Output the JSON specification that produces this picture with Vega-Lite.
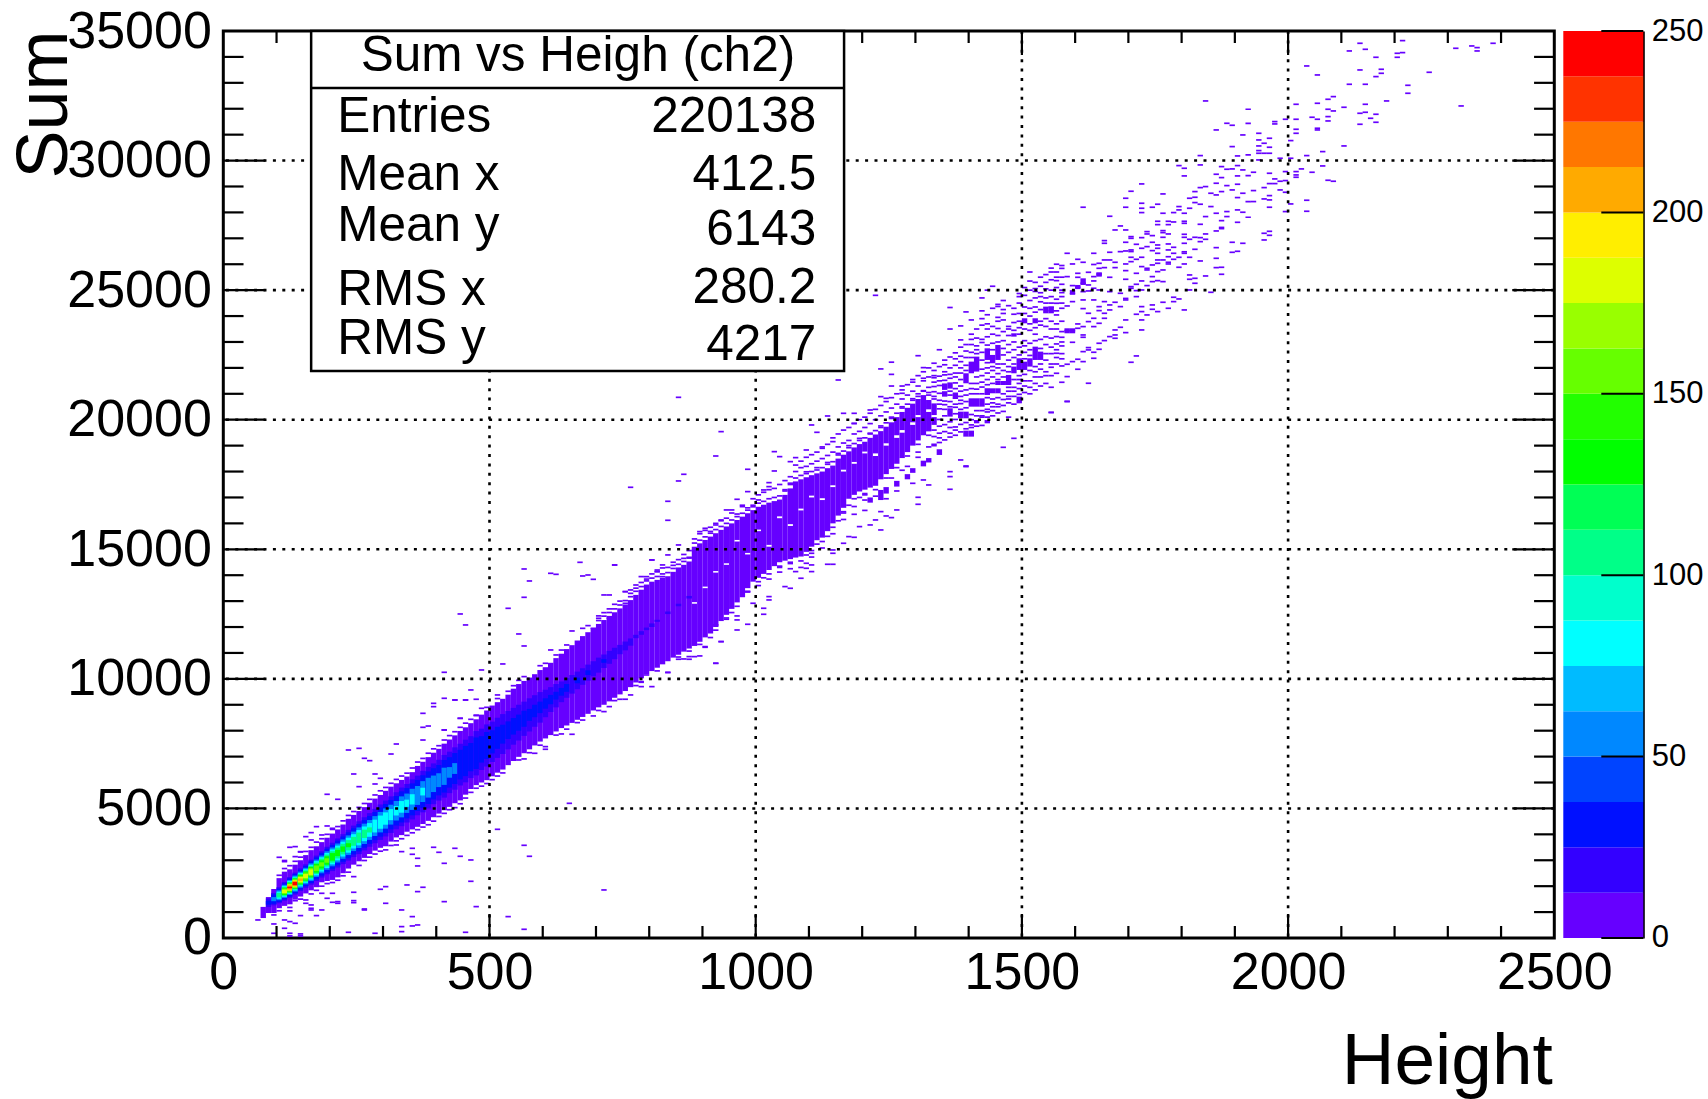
{"$schema":"https://vega.github.io/schema/vega-lite/v6.json","background":"white","padding":{"left":6.3,"top":3,"right":0,"bottom":0},"bounds":"flush","spacing":9,
"config":{"axis":{"labelFont":"Liberation Sans","titleFont":"Liberation Sans","labelColor":"#000","titleColor":"#000","titleFontWeight":"normal","grid":false,"ticks":false}},
"datasets":{
"cols":[
{"h":75,"a":770,"b":1200,"n":6},{"h":85,"a":965,"b":1580,"n":6},{"h":95,"a":965,"b":1890,"n":6},{"h":105,"a":1150,"b":2310,"n":6},{"h":115,"a":1240,"b":2560,"n":6},{"h":125,"a":1300,"b":2650,"n":6},{"h":135,"a":1480,"b":2830,"n":6},{"h":145,"a":1600,"b":3000,"n":6},{"h":155,"a":1720,"b":3200,"n":6},{"h":165,"a":1840,"b":3390,"n":6},{"h":175,"a":1960,"b":3540,"n":6},{"h":185,"a":2150,"b":3700,"n":6},{"h":195,"a":2200,"b":3870,"n":6},{"h":205,"a":2240,"b":4030,"n":6},{"h":215,"a":2340,"b":4190,"n":6},{"h":225,"a":2500,"b":4380,"n":6},{"h":235,"a":2680,"b":4600,"n":6},{"h":245,"a":2830,"b":4750,"n":6},{"h":255,"a":2960,"b":4900,"n":6},{"h":265,"a":3090,"b":5050,"n":6},{"h":275,"a":3240,"b":5220,"n":6},{"h":285,"a":3370,"b":5380,"n":6},{"h":295,"a":3480,"b":5520,"n":6},{"h":305,"a":3540,"b":5680,"n":6},{"h":315,"a":3720,"b":5840,"n":6},{"h":325,"a":3880,"b":5970,"n":6},{"h":335,"a":3970,"b":6100,"n":6},{"h":345,"a":4100,"b":6230,"n":6},{"h":355,"a":4190,"b":6400,"n":6},{"h":365,"a":4290,"b":6640,"n":6},{"h":375,"a":4400,"b":6800,"n":6},{"h":385,"a":4520,"b":6980,"n":6},{"h":395,"a":4660,"b":7150,"n":6},{"h":405,"a":4800,"b":7300,"n":6},{"h":415,"a":4930,"b":7500,"n":6},{"h":425,"a":5060,"b":7660,"n":6},{"h":435,"a":5200,"b":7820,"n":6},{"h":445,"a":5310,"b":7990,"n":6},{"h":455,"a":5530,"b":8130,"n":6},{"h":465,"a":5750,"b":8290,"n":6},{"h":475,"a":5900,"b":8440,"n":6},{"h":485,"a":6000,"b":8620,"n":6},{"h":495,"a":6090,"b":8780,"n":6},{"h":505,"a":6240,"b":8970,"n":6},{"h":515,"a":6380,"b":9100,"n":6},{"h":525,"a":6500,"b":9230,"n":6},{"h":535,"a":6670,"b":9390,"n":6},{"h":545,"a":6830,"b":9620,"n":6},{"h":555,"a":6990,"b":9800,"n":6},{"h":565,"a":7130,"b":9920,"n":6},{"h":575,"a":7280,"b":10050,"n":6},{"h":585,"a":7430,"b":10180,"n":6},{"h":595,"a":7580,"b":10340,"n":6},{"h":605,"a":7700,"b":10450,"n":6},{"h":615,"a":7830,"b":10620,"n":6},{"h":625,"a":7970,"b":10800,"n":6},{"h":635,"a":8100,"b":10970,"n":6},{"h":645,"a":8200,"b":11150,"n":6},{"h":655,"a":8300,"b":11300,"n":6},{"h":665,"a":8420,"b":11480,"n":6},{"h":675,"a":8530,"b":11650,"n":6},{"h":685,"a":8650,"b":11800,"n":6},{"h":695,"a":8780,"b":11960,"n":6},{"h":705,"a":8900,"b":12120,"n":6},{"h":715,"a":9000,"b":12270,"n":6},{"h":725,"a":9130,"b":12430,"n":6},{"h":735,"a":9270,"b":12570,"n":6},{"h":745,"a":9400,"b":12720,"n":6},{"h":755,"a":9530,"b":12870,"n":6},{"h":765,"a":9680,"b":13040,"n":6},{"h":775,"a":9860,"b":13240,"n":6},{"h":785,"a":10020,"b":13440,"n":6},{"h":795,"a":10180,"b":13640,"n":6},{"h":805,"a":10300,"b":13750,"n":6},{"h":815,"a":10430,"b":13820,"n":6},{"h":825,"a":10560,"b":13900,"n":6},{"h":835,"a":10680,"b":13960,"n":6},{"h":845,"a":10820,"b":14130,"n":6},{"h":855,"a":10930,"b":14300,"n":6},{"h":865,"a":11050,"b":14400,"n":6},{"h":875,"a":11170,"b":14530,"n":6},
{"h":885,"a":11270,"b":12900,"n":6},{"h":885,"a":12960,"b":15100,"n":6},{"h":895,"a":11430,"b":15230,"n":6},{"h":905,"a":11600,"b":13500,"n":6},{"h":905,"a":13560,"b":15360,"n":6},{"h":915,"a":11750,"b":15490,"n":6},{"h":925,"a":12000,"b":14100,"n":6},{"h":925,"a":14160,"b":15620,"n":6},{"h":935,"a":12230,"b":15750,"n":6},{"h":945,"a":12470,"b":14400,"n":6},{"h":945,"a":14460,"b":15880,"n":6},{"h":955,"a":12700,"b":16000,"n":6},{"h":965,"a":12950,"b":15300,"n":6},{"h":965,"a":15360,"b":16130,"n":6},{"h":975,"a":13150,"b":16260,"n":6},{"h":985,"a":13500,"b":14800,"n":6},{"h":985,"a":14860,"b":16390,"n":6},{"h":995,"a":13750,"b":16510,"n":6},{"h":1005,"a":13900,"b":15700,"n":6},{"h":1005,"a":15760,"b":16640,"n":6},{"h":1015,"a":14050,"b":16720,"n":6},{"h":1025,"a":14200,"b":15100,"n":6},{"h":1025,"a":15170,"b":16800,"n":6},{"h":1035,"a":14350,"b":16860,"n":6},{"h":1045,"a":14500,"b":16200,"n":6},{"h":1045,"a":16270,"b":16920,"n":6},{"h":1055,"a":14560,"b":17100,"n":6},{"h":1065,"a":14620,"b":15900,"n":6},{"h":1065,"a":15970,"b":17350,"n":6},{"h":1075,"a":14680,"b":17620,"n":6},{"h":1085,"a":14720,"b":16500,"n":6},{"h":1085,"a":16570,"b":17700,"n":6},{"h":1095,"a":14900,"b":17780,"n":6},{"h":1105,"a":15100,"b":17000,"n":6},{"h":1105,"a":17070,"b":17860,"n":6},{"h":1115,"a":15350,"b":17930,"n":6},{"h":1125,"a":15450,"b":16900,"n":6},{"h":1125,"a":16970,"b":18000,"n":6},{"h":1135,"a":15700,"b":18130,"n":6},{"h":1145,"a":16000,"b":17400,"n":6},{"h":1145,"a":17470,"b":18230,"n":6},{"h":1155,"a":16300,"b":18500,"n":6},{"h":1165,"a":16600,"b":18000,"n":6},{"h":1165,"a":18070,"b":18650,"n":6},{"h":1175,"a":16950,"b":18780,"n":6},{"h":1185,"a":17100,"b":18300,"n":6},{"h":1185,"a":18370,"b":18930,"n":6},{"h":1195,"a":17230,"b":19060,"n":6},{"h":1205,"a":17300,"b":18700,"n":6},{"h":1205,"a":18770,"b":19150,"n":6},{"h":1215,"a":17380,"b":19300,"n":6},{"h":1225,"a":17450,"b":18600,"n":6},{"h":1225,"a":18700,"b":19430,"n":6},{"h":1235,"a":17700,"b":19560,"n":6},{"h":1245,"a":17900,"b":19000,"n":6},{"h":1245,"a":19090,"b":19730,"n":6},{"h":1255,"a":18100,"b":19900,"n":6},{"h":1265,"a":18300,"b":19300,"n":6},{"h":1265,"a":19400,"b":20100,"n":6},{"h":1275,"a":18520,"b":19500,"n":6},{"h":1275,"a":19600,"b":20300,"n":6},{"h":1285,"a":18750,"b":20460,"n":6},{"h":1295,"a":19000,"b":19800,"n":6},{"h":1295,"a":19900,"b":20620,"n":6},{"h":1305,"a":19200,"b":20100,"n":6},{"h":1305,"a":20180,"b":20800,"n":6},{"h":1315,"a":19400,"b":20950,"n":6},{"h":1325,"a":19550,"b":20300,"n":6},{"h":1325,"a":20400,"b":20760,"n":6},
{"h":1215,"a":16800,"b":17000,"n":6},{"h":1235,"a":16900,"b":17290,"n":6},{"h":1245,"a":17150,"b":17400,"n":6},{"h":1265,"a":17420,"b":17640,"n":6},{"h":1285,"a":17700,"b":17900,"n":6},{"h":1295,"a":17950,"b":18130,"n":6},{"h":1315,"a":18200,"b":18420,"n":6},{"h":1325,"a":18350,"b":18520,"n":6},{"h":1345,"a":18640,"b":18860,"n":6},{"h":1335,"a":19800,"b":20100,"n":6},{"h":1335,"a":20180,"b":20630,"n":6},{"h":1355,"a":21150,"b":21400,"n":6},{"h":1365,"a":20120,"b":20440,"n":6},{"h":1365,"a":21200,"b":21440,"n":6},{"h":1375,"a":20800,"b":21050,"n":6},{"h":1385,"a":20054,"b":20311,"n":6},{"h":1395,"a":19347,"b":19578,"n":6},{"h":1395,"a":20054,"b":20311,"n":6},{"h":1405,"a":19347,"b":19578,"n":6},{"h":1405,"a":20504,"b":20826,"n":6},{"h":1415,"a":19861,"b":19990,"n":6},{"h":1415,"a":20504,"b":20826,"n":6},{"h":1425,"a":20504,"b":20826,"n":6},{"h":1435,"a":19861,"b":19990,"n":6},{"h":1445,"a":21020,"b":21212,"n":6},{"h":1455,"a":21020,"b":21212,"n":6},{"h":1455,"a":21340,"b":21495,"n":6},{"h":1465,"a":21340,"b":21495,"n":6},{"h":1475,"a":21340,"b":21495,"n":6},{"h":1495,"a":20633,"b":20890,"n":6},
{"h":1405,"a":21792,"b":22242,"n":6},{"h":1415,"a":21857,"b":22435,"n":6},{"h":1395,"a":21406,"b":21792,"n":6},{"h":1435,"a":22306,"b":22755,"n":6},{"h":1445,"a":22179,"b":22500,"n":6},{"h":1455,"a":22306,"b":22885,"n":6},{"h":1435,"a":20955,"b":21215,"n":6},{"h":1475,"a":21470,"b":21727,"n":6},{"h":1485,"a":21792,"b":22050,"n":6},{"h":1495,"a":21920,"b":22370,"n":6},{"h":1505,"a":21920,"b":22240,"n":6},{"h":1515,"a":22050,"b":22370,"n":6},{"h":1525,"a":22306,"b":22820,"n":6},{"h":1535,"a":22306,"b":22628,"n":6},{"h":1505,"a":23720,"b":23914,"n":6},{"h":1525,"a":23720,"b":23914,"n":6},{"h":1485,"a":23206,"b":23335,"n":6},{"h":1585,"a":23335,"b":23528,"n":6},{"h":1595,"a":23335,"b":23528,"n":6},{"h":1595,"a":24850,"b":25000,"n":6},{"h":1545,"a":24106,"b":24364,"n":6},{"h":1555,"a":24106,"b":24364,"n":6},{"h":1605,"a":25040,"b":25200,"n":6},{"h":1615,"a":25200,"b":25456,"n":6},{"h":1645,"a":25521,"b":25675,"n":6},{"h":1355,"a":20890,"b":21100,"n":6},
{"h":85,"a":1195,"b":1525,"n":19},{"h":85,"a":1285,"b":1435,"n":31},{"h":95,"a":1260,"b":1740,"n":19},{"h":95,"a":1320,"b":1680,"n":31},{"h":95,"a":1420,"b":1580,"n":56},
{"h":105,"a":1340,"b":1960,"n":19},{"h":105,"a":1393,"b":1907,"n":31},{"h":105,"a":1459,"b":1841,"n":56},{"h":105,"a":1510,"b":1790,"n":81},{"h":105,"a":1563,"b":1737,"n":112},
{"h":115,"a":1440,"b":2160,"n":19},{"h":115,"a":1490,"b":2110,"n":31},{"h":115,"a":1547,"b":2053,"n":56},{"h":115,"a":1590,"b":2010,"n":81},{"h":115,"a":1625,"b":1975,"n":112},{"h":115,"a":1660,"b":1940,"n":137},{"h":115,"a":1693,"b":1907,"n":162},{"h":115,"a":1736,"b":1864,"n":187},
{"h":125,"a":1550,"b":2350,"n":19},{"h":125,"a":1600,"b":2300,"n":31},{"h":125,"a":1660,"b":2240,"n":56},{"h":125,"a":1700,"b":2200,"n":81},{"h":125,"a":1737,"b":2163,"n":112},{"h":125,"a":1768,"b":2132,"n":137},{"h":125,"a":1798,"b":2102,"n":162},{"h":125,"a":1828,"b":2072,"n":187},{"h":125,"a":1863,"b":2037,"n":212},{"h":125,"a":1917,"b":1983,"n":240},
{"h":135,"a":1675,"b":2525,"n":19},{"h":135,"a":1727,"b":2473,"n":31},{"h":135,"a":1790,"b":2410,"n":56},{"h":135,"a":1834,"b":2366,"n":81},{"h":135,"a":1869,"b":2331,"n":112},{"h":135,"a":1900,"b":2300,"n":137},{"h":135,"a":1930,"b":2270,"n":162},{"h":135,"a":1962,"b":2238,"n":187},{"h":135,"a":1995,"b":2205,"n":212},{"h":135,"a":2035,"b":2165,"n":240},
{"h":145,"a":1813,"b":2687,"n":19},{"h":145,"a":1871,"b":2629,"n":31},{"h":145,"a":1939,"b":2561,"n":56},{"h":145,"a":1989,"b":2511,"n":81},{"h":145,"a":2028,"b":2472,"n":112},{"h":145,"a":2067,"b":2433,"n":137},{"h":145,"a":2104,"b":2396,"n":162},{"h":145,"a":2146,"b":2354,"n":187},{"h":145,"a":2205,"b":2295,"n":212},
{"h":155,"a":1936,"b":2844,"n":19},{"h":155,"a":2000,"b":2780,"n":31},{"h":155,"a":2072,"b":2708,"n":56},{"h":155,"a":2127,"b":2653,"n":81},{"h":155,"a":2170,"b":2610,"n":112},{"h":155,"a":2213,"b":2567,"n":137},{"h":155,"a":2255,"b":2525,"n":162},{"h":155,"a":2310,"b":2470,"n":187},
{"h":165,"a":2058,"b":3022,"n":19},{"h":165,"a":2122,"b":2958,"n":31},{"h":165,"a":2198,"b":2882,"n":56},{"h":165,"a":2253,"b":2827,"n":81},{"h":165,"a":2298,"b":2782,"n":112},{"h":165,"a":2341,"b":2739,"n":137},{"h":165,"a":2384,"b":2696,"n":162},{"h":165,"a":2433,"b":2647,"n":187},
{"h":175,"a":2200,"b":3180,"n":19},{"h":175,"a":2269,"b":3111,"n":31},{"h":175,"a":2355,"b":3025,"n":56},{"h":175,"a":2415,"b":2965,"n":81},{"h":175,"a":2469,"b":2911,"n":112},{"h":175,"a":2522,"b":2858,"n":137},{"h":175,"a":2582,"b":2798,"n":162},
{"h":185,"a":2332,"b":3348,"n":19},{"h":185,"a":2406,"b":3274,"n":31},{"h":185,"a":2498,"b":3182,"n":56},{"h":185,"a":2563,"b":3117,"n":81},{"h":185,"a":2622,"b":3058,"n":112},{"h":185,"a":2682,"b":2998,"n":137},{"h":185,"a":2759,"b":2921,"n":162},
{"h":195,"a":2459,"b":3521,"n":19},{"h":195,"a":2536,"b":3444,"n":31},{"h":195,"a":2633,"b":3347,"n":56},{"h":195,"a":2701,"b":3279,"n":81},{"h":195,"a":2762,"b":3218,"n":112},{"h":195,"a":2825,"b":3155,"n":137},{"h":195,"a":2905,"b":3075,"n":162},
{"h":205,"a":2584,"b":3676,"n":19},{"h":205,"a":2667,"b":3593,"n":31},{"h":205,"a":2767,"b":3493,"n":56},{"h":205,"a":2841,"b":3419,"n":81},{"h":205,"a":2910,"b":3350,"n":112},{"h":205,"a":2983,"b":3277,"n":137},
{"h":215,"a":2719,"b":3841,"n":19},{"h":215,"a":2806,"b":3754,"n":31},{"h":215,"a":2913,"b":3647,"n":56},{"h":215,"a":2994,"b":3566,"n":81},{"h":215,"a":3071,"b":3489,"n":112},{"h":215,"a":3158,"b":3402,"n":137},
{"h":225,"a":2852,"b":4008,"n":19},{"h":225,"a":2942,"b":3918,"n":31},{"h":225,"a":3056,"b":3804,"n":56},{"h":225,"a":3144,"b":3716,"n":81},{"h":225,"a":3226,"b":3634,"n":112},{"h":225,"a":3327,"b":3533,"n":137},
{"h":235,"a":2986,"b":4174,"n":19},{"h":235,"a":3080,"b":4080,"n":31},{"h":235,"a":3200,"b":3960,"n":56},{"h":235,"a":3291,"b":3869,"n":81},{"h":235,"a":3382,"b":3778,"n":112},{"h":235,"a":3503,"b":3657,"n":137},
{"h":245,"a":3123,"b":4337,"n":19},{"h":245,"a":3226,"b":4234,"n":31},{"h":245,"a":3354,"b":4106,"n":56},{"h":245,"a":3454,"b":4006,"n":81},{"h":245,"a":3559,"b":3901,"n":112},
{"h":255,"a":3236,"b":4504,"n":19},{"h":255,"a":3342,"b":4398,"n":31},{"h":255,"a":3472,"b":4268,"n":56},{"h":255,"a":3575,"b":4165,"n":81},{"h":255,"a":3672,"b":4068,"n":112},
{"h":265,"a":3380,"b":4660,"n":19},{"h":265,"a":3486,"b":4554,"n":31},{"h":265,"a":3627,"b":4413,"n":56},{"h":265,"a":3736,"b":4304,"n":81},{"h":265,"a":3858,"b":4182,"n":112},
{"h":275,"a":3521,"b":4819,"n":19},{"h":275,"a":3635,"b":4705,"n":31},{"h":275,"a":3786,"b":4554,"n":56},{"h":275,"a":3905,"b":4435,"n":81},{"h":275,"a":4072,"b":4268,"n":112},
{"h":285,"a":3657,"b":4983,"n":19},{"h":285,"a":3777,"b":4863,"n":31},{"h":285,"a":3936,"b":4704,"n":56},{"h":285,"a":4073,"b":4567,"n":81},
{"h":295,"a":3787,"b":5153,"n":19},{"h":295,"a":3911,"b":5029,"n":31},{"h":295,"a":4075,"b":4865,"n":56},{"h":295,"a":4215,"b":4725,"n":81},
{"h":305,"a":3917,"b":5303,"n":19},{"h":305,"a":4048,"b":5172,"n":31},{"h":305,"a":4220,"b":5000,"n":56},{"h":305,"a":4372,"b":4848,"n":81},
{"h":315,"a":4054,"b":5466,"n":19},{"h":315,"a":4192,"b":5328,"n":31},{"h":315,"a":4377,"b":5143,"n":56},{"h":315,"a":4547,"b":4973,"n":81},
{"h":325,"a":4195,"b":5625,"n":19},{"h":325,"a":4341,"b":5479,"n":31},{"h":325,"a":4534,"b":5286,"n":56},{"h":325,"a":4728,"b":5092,"n":81},
{"h":335,"a":4314,"b":5806,"n":19},{"h":335,"a":4460,"b":5660,"n":31},{"h":335,"a":4655,"b":5465,"n":56},{"h":335,"a":4835,"b":5285,"n":81},
{"h":345,"a":4457,"b":5943,"n":19},{"h":345,"a":4615,"b":5785,"n":31},{"h":345,"a":4827,"b":5573,"n":56},{"h":345,"a":5061,"b":5339,"n":81},
{"h":355,"a":4576,"b":6124,"n":19},{"h":355,"a":4734,"b":5966,"n":31},{"h":355,"a":4943,"b":5757,"n":56},{"h":355,"a":5152,"b":5548,"n":81},
{"h":365,"a":4735,"b":6265,"n":19},{"h":365,"a":4900,"b":6100,"n":31},{"h":365,"a":5135,"b":5865,"n":56},
{"h":375,"a":4849,"b":6451,"n":19},{"h":375,"a":5019,"b":6281,"n":31},{"h":375,"a":5247,"b":6053,"n":56},{"h":375,"a":5501,"b":5799,"n":81},
{"h":385,"a":4997,"b":6603,"n":19},{"h":385,"a":5171,"b":6429,"n":31},{"h":385,"a":5418,"b":6182,"n":56},
{"h":395,"a":5163,"b":6737,"n":19},{"h":395,"a":5350,"b":6550,"n":31},{"h":395,"a":5632,"b":6268,"n":56},
{"h":405,"a":5302,"b":6878,"n":19},{"h":405,"a":5503,"b":6677,"n":31},{"h":405,"a":5823,"b":6357,"n":56},
{"h":415,"a":5416,"b":7064,"n":19},{"h":415,"a":5612,"b":6868,"n":31},{"h":415,"a":5908,"b":6572,"n":56},
{"h":425,"a":5590,"b":7190,"n":19},{"h":425,"a":5804,"b":6976,"n":31},{"h":425,"a":6185,"b":6595,"n":56},
{"h":435,"a":5723,"b":7357,"n":19},{"h":435,"a":5942,"b":7138,"n":31},{"h":435,"a":6331,"b":6749,"n":56},
{"h":445,"a":5885,"b":7495,"n":19},{"h":445,"a":6118,"b":7262,"n":31},{"h":455,"a":6008,"b":7652,"n":19},{"h":455,"a":6246,"b":7414,"n":31},{"h":465,"a":6172,"b":7788,"n":19},{"h":465,"a":6435,"b":7525,"n":31},{"h":475,"a":6275,"b":7985,"n":19},{"h":475,"a":6522,"b":7738,"n":31},{"h":485,"a":6482,"b":8078,"n":19},{"h":485,"a":6771,"b":7789,"n":31},{"h":495,"a":6617,"b":8243,"n":19},{"h":495,"a":6911,"b":7949,"n":31},{"h":505,"a":6791,"b":8349,"n":19},{"h":505,"a":7123,"b":8017,"n":31},
{"h":515,"a":6950,"b":8500,"n":19},{"h":515,"a":7300,"b":8150,"n":31},{"h":525,"a":7100,"b":8640,"n":19},{"h":525,"a":7500,"b":8230,"n":31},{"h":535,"a":7280,"b":8760,"n":19},{"h":535,"a":7680,"b":8360,"n":31},{"h":545,"a":7460,"b":8880,"n":19},{"h":545,"a":7850,"b":8490,"n":31},{"h":555,"a":7620,"b":9000,"n":19},{"h":555,"a":8000,"b":8620,"n":31},{"h":565,"a":7800,"b":9120,"n":19},{"h":565,"a":8150,"b":8770,"n":31},{"h":575,"a":7970,"b":9250,"n":19},{"h":575,"a":8380,"b":8840,"n":31},{"h":585,"a":8150,"b":9370,"n":19},{"h":585,"a":8520,"b":9000,"n":31},{"h":595,"a":8310,"b":9490,"n":19},{"h":595,"a":8680,"b":9120,"n":31},{"h":605,"a":8520,"b":9580,"n":19},{"h":605,"a":8850,"b":9250,"n":31},{"h":615,"a":8720,"b":9680,"n":19},{"h":615,"a":9020,"b":9380,"n":31},{"h":625,"a":8900,"b":9800,"n":19},{"h":625,"a":9200,"b":9500,"n":31},{"h":635,"a":9100,"b":9900,"n":19},{"h":635,"a":9350,"b":9650,"n":31},{"h":645,"a":9270,"b":10030,"n":19},{"h":645,"a":9500,"b":9800,"n":31},{"h":655,"a":9430,"b":10150,"n":19},{"h":665,"a":9600,"b":10280,"n":19},{"h":665,"a":9830,"b":10050,"n":31},{"h":675,"a":9770,"b":10410,"n":19},{"h":685,"a":9930,"b":10550,"n":19},{"h":685,"a":10150,"b":10330,"n":31},{"h":695,"a":10100,"b":10680,"n":19},{"h":705,"a":10240,"b":10820,"n":19},{"h":715,"a":10420,"b":10940,"n":19},{"h":715,"a":10620,"b":10760,"n":31},{"h":725,"a":10580,"b":11080,"n":19},{"h":735,"a":10760,"b":11200,"n":19},{"h":745,"a":10950,"b":11310,"n":19},{"h":755,"a":11100,"b":11440,"n":19},{"h":765,"a":11280,"b":11560,"n":19},{"h":775,"a":11570,"b":11700,"n":19},{"h":785,"a":11700,"b":11840,"n":19},{"h":795,"a":11880,"b":11980,"n":19},{"h":805,"a":12000,"b":12140,"n":19},{"h":815,"a":12200,"b":12280,"n":19},{"h":835,"a":12500,"b":12600,"n":19},{"h":855,"a":12800,"b":12900,"n":19},{"h":875,"a":13100,"b":13200,"n":19}
],
"dash":[
{"h":1335,"s":19050},{"h":1335,"s":19350},{"h":1335,"s":19600},{"h":1335,"s":20900},{"h":1335,"s":21080},{"h":1335,"s":21280},{"h":1335,"s":21450},{"h":1335,"s":21620},{"h":1335,"s":21900},
{"h":1345,"s":19120},{"h":1345,"s":19480},{"h":1345,"s":19750},{"h":1345,"s":20010},{"h":1345,"s":20420},{"h":1345,"s":20750},{"h":1345,"s":21020},{"h":1345,"s":21320},{"h":1345,"s":21680},{"h":1345,"s":22050},
{"h":1355,"s":19220},{"h":1355,"s":19540},{"h":1355,"s":19810},{"h":1355,"s":20150},{"h":1355,"s":20580},{"h":1355,"s":20720},{"h":1355,"s":21520},{"h":1355,"s":21730},{"h":1355,"s":22120},
{"h":1365,"s":19330},{"h":1365,"s":19480},{"h":1365,"s":19920},{"h":1365,"s":20500},{"h":1365,"s":20700},{"h":1365,"s":20950},{"h":1365,"s":21100},{"h":1365,"s":21750},{"h":1365,"s":22000},{"h":1365,"s":22420},
{"h":1375,"s":19400},{"h":1375,"s":19720},{"h":1375,"s":20010},{"h":1375,"s":20230},{"h":1375,"s":20480},{"h":1375,"s":21200},{"h":1375,"s":21420},{"h":1375,"s":21650},{"h":1375,"s":22100},{"h":1375,"s":22350},
{"h":1385,"s":19530},{"h":1385,"s":19820},{"h":1385,"s":20400},{"h":1385,"s":20620},{"h":1385,"s":20900},{"h":1385,"s":21100},{"h":1385,"s":21300},{"h":1385,"s":21800},{"h":1385,"s":22000},{"h":1385,"s":22450},{"h":1385,"s":22800},
{"h":1395,"s":19650},{"h":1395,"s":19890},{"h":1395,"s":20460},{"h":1395,"s":20700},{"h":1395,"s":20950},{"h":1395,"s":21150},{"h":1395,"s":21900},{"h":1395,"s":22100},{"h":1395,"s":22400},{"h":1395,"s":22900},
{"h":1405,"s":19700},{"h":1405,"s":20000},{"h":1405,"s":20200},{"h":1405,"s":21000},{"h":1405,"s":21200},{"h":1405,"s":21400},{"h":1405,"s":22400},{"h":1405,"s":22600},{"h":1405,"s":22900},{"h":1405,"s":23100},
{"h":1415,"s":19750},{"h":1415,"s":20150},{"h":1415,"s":20350},{"h":1415,"s":21000},{"h":1415,"s":21180},{"h":1415,"s":21400},{"h":1415,"s":21650},{"h":1415,"s":22550},{"h":1415,"s":22850},{"h":1415,"s":23150},{"h":1415,"s":23500},
{"h":1425,"s":19780},{"h":1425,"s":20100},{"h":1425,"s":20350},{"h":1425,"s":21000},{"h":1425,"s":21260},{"h":1425,"s":21450},{"h":1425,"s":21700},{"h":1425,"s":21950},{"h":1425,"s":22300},{"h":1425,"s":22600},{"h":1425,"s":23100},{"h":1425,"s":23650},
{"h":1435,"s":20100},{"h":1435,"s":20400},{"h":1435,"s":20600},{"h":1435,"s":20850},{"h":1435,"s":21350},{"h":1435,"s":21550},{"h":1435,"s":21800},{"h":1435,"s":22000},{"h":1435,"s":22200},{"h":1435,"s":22880},{"h":1435,"s":23200},{"h":1435,"s":23700},{"h":1435,"s":24050},
{"h":1445,"s":20150},{"h":1445,"s":20350},{"h":1445,"s":20500},{"h":1445,"s":20800},{"h":1445,"s":21400},{"h":1445,"s":21650},{"h":1445,"s":21900},{"h":1445,"s":22050},{"h":1445,"s":22700},{"h":1445,"s":22950},{"h":1445,"s":23300},{"h":1445,"s":23600},
{"h":1455,"s":20260},{"h":1455,"s":20600},{"h":1455,"s":20850},{"h":1455,"s":21550},{"h":1455,"s":21780},{"h":1455,"s":22000},{"h":1455,"s":22150},{"h":1455,"s":23000},{"h":1455,"s":23250},{"h":1455,"s":23520},{"h":1455,"s":23800},{"h":1455,"s":24450},
{"h":1465,"s":20320},{"h":1465,"s":20550},{"h":1465,"s":20780},{"h":1465,"s":21000},{"h":1465,"s":21650},{"h":1465,"s":21900},{"h":1465,"s":22150},{"h":1465,"s":22500},{"h":1465,"s":22750},{"h":1465,"s":23050},{"h":1465,"s":23400},{"h":1465,"s":24100},{"h":1465,"s":24600},
{"h":1475,"s":20650},{"h":1475,"s":20800},{"h":1475,"s":21100},{"h":1475,"s":21250},{"h":1475,"s":21850},{"h":1475,"s":22050},{"h":1475,"s":22300},{"h":1475,"s":22600},{"h":1475,"s":22900},{"h":1475,"s":23250},{"h":1475,"s":23500},{"h":1475,"s":24400},
{"h":1485,"s":20600},{"h":1485,"s":20900},{"h":1485,"s":21100},{"h":1485,"s":21250},{"h":1485,"s":21550},{"h":1485,"s":22150},{"h":1485,"s":22400},{"h":1485,"s":22700},{"h":1485,"s":23000},{"h":1485,"s":23450},{"h":1485,"s":23750},{"h":1485,"s":24300},
{"h":1495,"s":20980},{"h":1495,"s":21200},{"h":1495,"s":21550},{"h":1495,"s":21700},{"h":1495,"s":22500},{"h":1495,"s":22800},{"h":1495,"s":23300},{"h":1495,"s":23550},{"h":1495,"s":23800},{"h":1495,"s":24100},{"h":1495,"s":24500},{"h":1495,"s":24750},
{"h":1505,"s":21050},{"h":1505,"s":21300},{"h":1505,"s":21500},{"h":1505,"s":21750},{"h":1505,"s":22350},{"h":1505,"s":22600},{"h":1505,"s":22850},{"h":1505,"s":23050},{"h":1505,"s":23500},{"h":1505,"s":24100},{"h":1505,"s":24350},{"h":1505,"s":24800},{"h":1505,"s":25100},
{"h":1515,"s":21250},{"h":1515,"s":21500},{"h":1515,"s":21900},{"h":1515,"s":22480},{"h":1515,"s":22700},{"h":1515,"s":22950},{"h":1515,"s":23450},{"h":1515,"s":23700},{"h":1515,"s":24000},{"h":1515,"s":24300},{"h":1515,"s":24600},{"h":1515,"s":25000},{"h":1515,"s":25350},
{"h":1525,"s":21150},{"h":1525,"s":21650},{"h":1525,"s":21850},{"h":1525,"s":22050},{"h":1525,"s":23050},{"h":1525,"s":23300},{"h":1525,"s":23550},{"h":1525,"s":24150},{"h":1525,"s":24350},{"h":1525,"s":24700},{"h":1525,"s":24950},{"h":1525,"s":25300},
{"h":1535,"s":21300},{"h":1535,"s":21650},{"h":1535,"s":21950},{"h":1535,"s":22150},{"h":1535,"s":22750},{"h":1535,"s":23100},{"h":1535,"s":23650},{"h":1535,"s":23800},{"h":1535,"s":24250},{"h":1535,"s":24550},{"h":1535,"s":24750},{"h":1535,"s":25150},{"h":1535,"s":25500},
{"h":1545,"s":21400},{"h":1545,"s":21700},{"h":1545,"s":21850},{"h":1545,"s":22300},{"h":1545,"s":22550},{"h":1545,"s":22900},{"h":1545,"s":23200},{"h":1545,"s":23600},{"h":1545,"s":23900},{"h":1545,"s":24500},{"h":1545,"s":24700},{"h":1545,"s":25300},{"h":1545,"s":25600},
{"h":1555,"s":21700},{"h":1555,"s":22150},{"h":1555,"s":22550},{"h":1555,"s":22800},{"h":1555,"s":23150},{"h":1555,"s":23500},{"h":1555,"s":23800},{"h":1555,"s":24500},{"h":1555,"s":24750},{"h":1555,"s":25000},{"h":1555,"s":25400},{"h":1555,"s":25850},
{"h":1565,"s":22150},{"h":1565,"s":22400},{"h":1565,"s":22700},{"h":1565,"s":23500},{"h":1565,"s":23700},{"h":1565,"s":24200},{"h":1565,"s":24650},{"h":1565,"s":25100},{"h":1565,"s":25700},{"h":1565,"s":26000},
{"h":1575,"s":22350},{"h":1575,"s":22550},{"h":1575,"s":23000},{"h":1575,"s":23400},{"h":1575,"s":23800},{"h":1575,"s":24500},{"h":1575,"s":25000},{"h":1575,"s":25500},{"h":1575,"s":25950},
{"h":705,"s":12250},{"h":705,"s":12430},{"h":715,"s":12420},{"h":725,"s":12560},{"h":725,"s":12700},{"h":735,"s":12700},{"h":745,"s":12850},{"h":745,"s":13000},{"h":755,"s":13020},{"h":765,"s":13170},{"h":765,"s":13300},{"h":775,"s":13380},{"h":775,"s":13500},{"h":785,"s":13560},{"h":785,"s":13720},{"h":795,"s":13780},{"h":795,"s":13850},{"h":805,"s":14050},{"h":815,"s":13950},{"h":815,"s":14200},{"h":825,"s":14050},{"h":825,"s":14280},{"h":835,"s":14100},{"h":835,"s":14300},{"h":845,"s":14260},{"h":845,"s":14500},{"h":855,"s":14420},{"h":855,"s":14600},{"h":865,"s":14530},{"h":865,"s":14800},{"h":875,"s":14660},{"h":875,"s":14950},{"h":885,"s":15240},{"h":885,"s":15400},{"h":895,"s":15350},{"h":895,"s":15600},{"h":905,"s":15480},{"h":905,"s":15730},{"h":915,"s":15620},{"h":915,"s":15850},{"h":925,"s":15760},{"h":925,"s":16000},{"h":935,"s":15880},{"h":935,"s":16100},{"h":945,"s":16000},{"h":955,"s":16130},{"h":955,"s":16400},{"h":965,"s":16260},{"h":975,"s":16390},{"h":975,"s":16700},{"h":985,"s":16510},{"h":995,"s":16640},{"h":995,"s":16950},{"h":1005,"s":16780},{"h":1005,"s":17100},{"h":1015,"s":16850},{"h":1015,"s":17200},{"h":1025,"s":16950},{"h":1025,"s":17300},{"h":1035,"s":17000},{"h":1035,"s":17350},{"h":1045,"s":17060},{"h":1045,"s":17500},{"h":1055,"s":17250},{"h":1055,"s":17650},{"h":1065,"s":17500},{"h":1065,"s":17800},{"h":1075,"s":17750},{"h":1075,"s":18000},{"h":1075,"s":18250},{"h":1085,"s":17850},{"h":1085,"s":18150},{"h":1085,"s":18400},{"h":1095,"s":17920},{"h":1095,"s":18200},{"h":1095,"s":18550},{"h":1105,"s":18000},{"h":1105,"s":18300},{"h":1105,"s":18650},{"h":1115,"s":18060},{"h":1115,"s":18400},{"h":1115,"s":18750},{"h":1125,"s":18150},{"h":1125,"s":18500},{"h":1125,"s":18950},{"h":1135,"s":18280},{"h":1135,"s":18620},{"h":1135,"s":19050},{"h":1145,"s":18380},{"h":1145,"s":18750},{"h":1145,"s":19300},{"h":1155,"s":18640},{"h":1155,"s":18950},{"h":1155,"s":19450},{"h":1165,"s":18790},{"h":1165,"s":19100},{"h":1165,"s":19600},{"h":1175,"s":18920},{"h":1175,"s":19200},{"h":1175,"s":19700},{"h":1185,"s":19080},{"h":1185,"s":19450},{"h":1185,"s":19850},{"h":1195,"s":19200},{"h":1195,"s":19550},{"h":1195,"s":20000},{"h":1205,"s":19300},{"h":1205,"s":19700},{"h":1205,"s":20100},{"h":1215,"s":19450},{"h":1215,"s":19850},{"h":1215,"s":20250},{"h":1225,"s":19580},{"h":1225,"s":20000},{"h":1225,"s":20400},{"h":1235,"s":19700},{"h":1235,"s":20150},{"h":1235,"s":20550},{"h":1245,"s":19880},{"h":1245,"s":20300},{"h":1245,"s":20700},{"h":1255,"s":20050},{"h":1255,"s":20450},{"h":1255,"s":20850},{"h":1265,"s":20250},{"h":1265,"s":20600},{"h":1265,"s":21000},{"h":1275,"s":20450},{"h":1275,"s":20800},{"h":1275,"s":21150},{"h":1285,"s":20600},{"h":1285,"s":20950},{"h":1285,"s":21350},{"h":1295,"s":20750},{"h":1295,"s":21100},{"h":1295,"s":21550},{"h":1305,"s":21000},{"h":1305,"s":21300},{"h":1305,"s":21700},{"h":1315,"s":21100},{"h":1315,"s":21500},{"h":1315,"s":21850},{"h":1325,"s":20950},{"h":1325,"s":21250},{"h":1325,"s":21650},{"h":1325,"s":22000},
{"h":985,"s":13380},{"h":1005,"s":13750},{"h":1005,"s":13600},{"h":1025,"s":14050},{"h":1025,"s":13850},{"h":1045,"s":14350},{"h":1045,"s":14120},{"h":1065,"s":14450},{"h":1065,"s":14250},{"h":1085,"s":14550},{"h":1085,"s":14300},{"h":1105,"s":14950},{"h":1105,"s":14700},{"h":1125,"s":15300},{"h":1125,"s":15050},{"h":1145,"s":15850},{"h":1145,"s":15600},{"h":1165,"s":16450},{"h":1165,"s":16150},{"h":1185,"s":16950},{"h":1185,"s":16650},{"h":1185,"s":16350},{"h":1205,"s":17150},{"h":1205,"s":16900},{"h":1205,"s":16500},{"h":1225,"s":17300},{"h":1225,"s":17050},{"h":1245,"s":17750},{"h":1245,"s":16950},{"h":1265,"s":18150},{"h":1265,"s":17250},{"h":1285,"s":18600},{"h":1285,"s":18200},{"h":1305,"s":19050},{"h":1305,"s":18550},{"h":1325,"s":19400},{"h":1325,"s":18950},
{"h":65,"s":696},{"h":95,"s":890},{"h":95,"s":542},{"h":115,"s":696},{"h":125,"s":632},{"h":135,"s":568},{"h":95,"s":182},{"h":125,"s":182},{"h":145,"s":157},{"h":125,"s":80},{"h":145,"s":80},{"h":115,"s":375},{"h":185,"s":1725},{"h":205,"s":1725},{"h":195,"s":1532},{"h":205,"s":1378},{"h":215,"s":1339},{"h":215,"s":1404},{"h":155,"s":1468},{"h":165,"s":1146},{"h":185,"s":1082},{"h":175,"s":864},{"h":145,"s":864},{"h":125,"s":1044},{"h":155,"s":1339},{"h":165,"s":1275},{"h":165,"s":1082},
{"h":105,"s":3114},{"h":115,"s":2947},{"h":115,"s":2990},{"h":135,"s":3526},{"h":145,"s":3333},{"h":135,"s":3140},{"h":195,"s":5545},{"h":215,"s":5352},{"h":235,"s":7255},{"h":255,"s":7319},{"h":265,"s":6934},{"h":275,"s":6843},{"h":315,"s":7100},{"h":325,"s":7486},{"h":375,"s":7640},{"h":435,"s":9184},{"h":455,"s":9184},{"h":395,"s":9055},{"h":395,"s":8927},{"h":375,"s":8670},{"h":375,"s":8130},{"h":385,"s":8180},{"h":415,"s":8027},{"h":445,"s":8477},{"h":465,"s":8438},{"h":245,"s":6329},{"h":285,"s":6329},{"h":255,"s":5840},{"h":295,"s":6162},{"h":285,"s":5943},{"h":175,"s":4297},{"h":195,"s":4323},{"h":205,"s":4233},{"h":165,"s":4066},{"h":155,"s":3911},{"h":165,"s":3783},{"h":185,"s":3976},{"h":125,"s":3500},{"h":145,"s":3320},
{"h":650,"s":5197},{"h":515,"s":4194},{"h":565,"s":3577},{"h":575,"s":3153},{"h":465,"s":3011},{"h":445,"s":3153},{"h":395,"s":3500},{"h":435,"s":3461},{"h":405,"s":3307},{"h":415,"s":2882},{"h":355,"s":3461},{"h":355,"s":3230},{"h":365,"s":3076},{"h":365,"s":2780},{"h":335,"s":3333},{"h":325,"s":3590},{"h":245,"s":2368},{"h":245,"s":1764},{"h":245,"s":1442},{"h":245,"s":1365},{"h":305,"s":1982},{"h":345,"s":2047},{"h":295,"s":1880},{"h":375,"s":1957},{"h":365,"s":1790},{"h":415,"s":1403},{"h":305,"s":1339},{"h":265,"s":1082},{"h":265,"s":1120},{"h":335,"s":1082},{"h":475,"s":1211},{"h":465,"s":2188},{"h":715,"s":1854},{"h":535,"s":825},{"h":565,"s":336},{"h":355,"s":825},{"h":355,"s":465},{"h":365,"s":503},{"h":335,"s":439},{"h":335,"s":246},{"h":285,"s":182},{"h":455,"s":220},{"h":235,"s":220},
{"h":145,"s":1500},{"h":135,"s":1440},{"h":125,"s":1180},{"h":105,"s":1050},{"h":165,"s":1700},{"h":175,"s":1840},{"h":185,"s":2000},{"h":195,"s":2100},{"h":205,"s":2140},{"h":215,"s":2230},{"h":225,"s":2400},{"h":235,"s":2540},{"h":255,"s":2800},{"h":265,"s":2990},{"h":275,"s":3120},{"h":285,"s":3240},{"h":295,"s":3350},{"h":305,"s":3400},{"h":315,"s":3570},{"h":325,"s":3750},{"h":335,"s":3830},{"h":345,"s":3960},{"h":355,"s":4060},{"h":365,"s":4180},{"h":375,"s":4280},{"h":385,"s":4370},{"h":395,"s":4510},{"h":405,"s":4690},{"h":415,"s":4810},{"h":425,"s":4950},{"h":435,"s":5030},{"h":445,"s":5180},{"h":455,"s":5400},{"h":465,"s":5620},{"h":475,"s":5780},{"h":485,"s":5860},{"h":495,"s":5960},{"h":505,"s":6110},{"h":515,"s":6250},{"h":525,"s":6370},
{"h":105,"s":2420},{"h":115,"s":2680},{"h":125,"s":2790},{"h":135,"s":2960},{"h":145,"s":3120},{"h":155,"s":3340},{"h":165,"s":3500},{"h":175,"s":3700},{"h":185,"s":3830},{"h":195,"s":4000},{"h":205,"s":4190},{"h":215,"s":4300},{"h":225,"s":4520},{"h":235,"s":4730},{"h":245,"s":4880},{"h":255,"s":5040},{"h":265,"s":5190},{"h":275,"s":5350},{"h":285,"s":5520},{"h":295,"s":5680},{"h":305,"s":5810},{"h":315,"s":5970},{"h":325,"s":6120},{"h":335,"s":6250},{"h":345,"s":6360},{"h":355,"s":6560},{"h":365,"s":6790},{"h":375,"s":6930},{"h":385,"s":7130},{"h":395,"s":7300},{"h":405,"s":7420},{"h":415,"s":7640},{"h":425,"s":7810},{"h":435,"s":7960},{"h":445,"s":8130},{"h":455,"s":8290},{"h":475,"s":8600},{"h":495,"s":8900},{"h":515,"s":9240},{"h":535,"s":9520},
{"h":670,"s":14497},{"h":735,"s":14394},{"h":805,"s":14587},{"h":565,"s":14240},{"h":615,"s":14073},{"h":625,"s":14034},{"h":685,"s":14008},{"h":675,"s":13970},{"h":695,"s":13841},{"h":575,"s":13777},{"h":565,"s":13147},{"h":535,"s":12722},{"h":445,"s":12504},{"h":455,"s":12080},{"h":555,"s":11732},{"h":565,"s":11269},{"h":615,"s":11115},{"h":525,"s":10575},{"h":485,"s":10343},{"h":415,"s":10253},{"h":465,"s":9572},{"h":415,"s":9250},{"h":435,"s":9186},{"h":455,"s":9186},{"h":475,"s":9212},{"h":485,"s":8864},{"h":475,"s":8581},{"h":445,"s":8478},{"h":415,"s":8028},{"h":815,"s":14137},{"h":825,"s":13944},{"h":725,"s":13237},{"h":755,"s":13365},{"h":775,"s":13622},{"h":795,"s":13944},{"h":735,"s":12877},{"h":755,"s":12915},{"h":715,"s":12555},{"h":705,"s":12337},{"h":725,"s":12337},{"h":685,"s":12054},{"h":655,"s":11848},{"h":675,"s":11950},{"h":695,"s":11950},{"h":645,"s":11308},{"h":635,"s":11112},{"h":625,"s":10922},{"h":605,"s":10600},{"h":595,"s":10507},{"h":565,"s":10086},{"h":545,"s":9736},{"h":555,"s":9943},{"h":515,"s":9379},
{"h":905,"s":11218},{"h":925,"s":10600},{"h":935,"s":11437},{"h":865,"s":10768},{"h":885,"s":10858},{"h":835,"s":10253},{"h":805,"s":9700},{"h":785,"s":9868},{"h":795,"s":10150},{"h":765,"s":9379},{"h":745,"s":9212},{"h":715,"s":8736},{"h":725,"s":8929},{"h":695,"s":8569},{"h":665,"s":8311},{"h":655,"s":7861},{"h":635,"s":7874},{"h":605,"s":7385},{"h":605,"s":7283},{"h":565,"s":6910},{"h":585,"s":7128},{"h":965,"s":11886},{"h":955,"s":12558},{"h":945,"s":12301},{"h":925,"s":11880},{"h":915,"s":11594},{"h":895,"s":11329},{"h":875,"s":11072},{"h":855,"s":10843},{"h":815,"s":10307},{"h":775,"s":9740},{"h":735,"s":9160},{"h":705,"s":8780},{"h":675,"s":8410},{"h":645,"s":8060},{"h":625,"s":7830},{"h":595,"s":7440},{"h":575,"s":7150},{"h":555,"s":6870},
{"h":1155,"s":21533},{"h":1255,"s":21300},{"h":855,"s":20864},{"h":935,"s":19540},{"h":925,"s":18600},{"h":865,"s":17894},{"h":855,"s":17636},{"h":765,"s":17392},{"h":835,"s":16852},{"h":835,"s":16119},{"h":735,"s":14396},{"h":985,"s":18087},{"h":1035,"s":18022},{"h":985,"s":17225},{"h":955,"s":16518},{"h":965,"s":16929},{"h":1025,"s":17572},
{"h":1585,"s":20710},{"h":1555,"s":20286},{"h":1485,"s":19282},{"h":1465,"s":18935},{"h":1395,"s":18215},{"h":1365,"s":17315},{"h":1365,"s":17804},{"h":1305,"s":17006},{"h":1305,"s":16736},{"h":1265,"s":16518},{"h":1245,"s":16286},{"h":1255,"s":16222},{"h":1185,"s":15463},{"h":1165,"s":15232},{"h":1145,"s":14974},{"h":1105,"s":14396},{"h":1135,"s":14421},{"h":1105,"s":14846},{"h":1105,"s":14139},{"h":1085,"s":13882},{"h":1065,"s":13495},{"h":1025,"s":13174},{"h":1015,"s":12492},{"h":985,"s":12106},{"h":935,"s":11438},
{"h":1165,"s":20247},{"h":1185,"s":20247},{"h":1135,"s":20144},{"h":1215,"s":20376},{"h":1235,"s":20890},{"h":1245,"s":20826},{"h":1275,"s":21019},{"h":1185,"s":19861},{"h":1105,"s":19797},{"h":1115,"s":19514},{"h":1145,"s":19154},{"h":1125,"s":18897},{"h":1095,"s":18832},{"h":1035,"s":18768},{"h":1045,"s":18575},{"h":1075,"s":18537},{"h":1065,"s":18382},{"h":1025,"s":17418},{"h":1015,"s":17290},{"h":1005,"s":16904},{"h":975,"s":16646},{"h":945,"s":16518},{"h":965,"s":16360},{"h":935,"s":16132},{"h":925,"s":15939},{"h":905,"s":15810},{"h":895,"s":15682},{"h":915,"s":15689},{"h":855,"s":15167},{"h":835,"s":14782},{"h":825,"s":14396},{"h":805,"s":14589},{"h":815,"s":14139},{"h":785,"s":13946},{"h":805,"s":13888},{"h":765,"s":13431},{"h":755,"s":13367},{"h":715,"s":13238},{"h":875,"s":14690},{"h":865,"s":14650},{"h":845,"s":14380},{"h":945,"s":16200},{"h":985,"s":16600},{"h":995,"s":16700},{"h":1055,"s":17300},{"h":1065,"s":17550},{"h":1095,"s":17990},{"h":1115,"s":18150},{"h":1135,"s":18350},{"h":1155,"s":18700},{"h":1175,"s":19000},{"h":1195,"s":19280},{"h":1215,"s":19480},{"h":1235,"s":19760},{"h":1255,"s":20100},{"h":1275,"s":20500},{"h":1295,"s":20810},{"h":1315,"s":21120},
{"h":1395,"s":18190},{"h":1385,"s":18447},{"h":1365,"s":17996},{"h":1295,"s":17546},{"h":1325,"s":17482},{"h":1315,"s":17675},{"h":1235,"s":16453},{"h":1225,"s":16132},{"h":1215,"s":15939},{"h":1195,"s":15875},{"h":1235,"s":15746},{"h":1175,"s":15489},{"h":1145,"s":14846},{"h":1145,"s":14421},{"h":1095,"s":14267},{"h":1095,"s":14460},{"h":1075,"s":14139},{"h":1055,"s":13560},{"h":1025,"s":13045},{"h":1015,"s":12724},{"h":995,"s":12917},{"h":965,"s":12274},{"h":965,"s":12428},{"h":925,"s":12081},{"h":905,"s":11245},{"h":875,"s":10859},{"h":895,"s":10885},{"h":855,"s":10756},{"h":875,"s":10756},{"h":925,"s":10602},{"h":835,"s":10242},{"h":785,"s":9895},{"h":785,"s":9700},{"h":755,"s":9213},{"h":1165,"s":16400},{"h":1175,"s":16700},{"h":1155,"s":16100},{"h":1135,"s":15500},{"h":1115,"s":15200},{"h":1095,"s":14780},{"h":1065,"s":14500},{"h":1045,"s":14300},{"h":1015,"s":13900},{"h":985,"s":13350},{"h":965,"s":12800},{"h":945,"s":12350},{"h":1195,"s":17000},{"h":1205,"s":17100},{"h":1255,"s":17750},{"h":1275,"s":18050},{"h":1305,"s":18750},{"h":1335,"s":19000},{"h":1345,"s":19300},{"h":1365,"s":19700},{"h":1375,"s":19600},{"h":1405,"s":19800},{"h":1425,"s":20150},{"h":1435,"s":20300},{"h":1455,"s":20500},{"h":1475,"s":20100},{"h":1445,"s":20650},{"h":1475,"s":20900},{"h":1515,"s":21000},{"h":1525,"s":21400},{"h":1495,"s":21400},
{"h":1305,"s":20900},{"h":1325,"s":21050},{"h":1345,"s":20600},{"h":1335,"s":20800},{"h":1355,"s":20400},{"h":1375,"s":20600},{"h":1385,"s":20750},{"h":1345,"s":21500},{"h":1365,"s":21600},{"h":1385,"s":21550},{"h":1375,"s":21800},{"h":1355,"s":21850},{"h":1335,"s":21700},{"h":1315,"s":21600},{"h":1295,"s":21450},{"h":1275,"s":21300},{"h":1255,"s":21750},{"h":1235,"s":21960},{"h":1315,"s":22010},{"h":1335,"s":22180},{"h":1355,"s":22300},{"h":1385,"s":22240},{"h":1395,"s":22650},{"h":1375,"s":22580},{"h":1415,"s":22700},{"h":1425,"s":22980},{"h":1385,"s":23080},{"h":1345,"s":22700},{"h":1305,"s":22470},{"h":1255,"s":22220},{"h":1405,"s":23300},{"h":1435,"s":23500},{"h":1365,"s":23500},{"h":1385,"s":23620},{"h":1405,"s":23850},{"h":1425,"s":23900},{"h":1455,"s":23950},{"h":1475,"s":23600},{"h":1465,"s":23850},{"h":1445,"s":24300},{"h":1425,"s":24200},{"h":1455,"s":24370},{"h":1365,"s":24330},{"h":1395,"s":24160},{"h":1485,"s":24070},{"h":1465,"s":24250},{"h":1225,"s":24800},{"h":1445,"s":25150},{"h":1425,"s":24700},{"h":1435,"s":25000},{"h":1535,"s":24900},{"h":1525,"s":25060},{"h":1495,"s":24870},{"h":1515,"s":25700},{"h":1555,"s":25700},{"h":1575,"s":25840},{"h":1545,"s":25050},{"h":1565,"s":25500},
{"h":1685,"s":27477},{"h":1675,"s":27322},{"h":1695,"s":27322},{"h":1755,"s":27657},{"h":1775,"s":27657},{"h":1785,"s":27631},{"h":1805,"s":27657},{"h":1755,"s":27528},{"h":1775,"s":27528},{"h":1805,"s":27579},{"h":1835,"s":27541},{"h":1875,"s":27682},{"h":1875,"s":27374},{"h":1875,"s":27420},{"h":1865,"s":27284},{"h":1905,"s":27618},{"h":1965,"s":27270},{"h":1955,"s":27194},{"h":1965,"s":27116},{"h":1955,"s":26936},{"h":1915,"s":26808},{"h":1895,"s":26847},{"h":1905,"s":26499},{"h":1895,"s":26460},{"h":1865,"s":26640},{"h":1865,"s":26229},{"h":1865,"s":25869},{"h":1875,"s":25882},{"h":1875,"s":25612},{"h":1845,"s":25547},{"h":1825,"s":25457},{"h":1815,"s":25586},{"h":1815,"s":25419},{"h":1825,"s":25265},{"h":1835,"s":26126},{"h":1835,"s":26872},{"h":1845,"s":26962},{"h":1705,"s":27065},{"h":1705,"s":27000},{"h":1725,"s":27026},{"h":1745,"s":27104},{"h":1735,"s":27258},{"h":1735,"s":27168},{"h":1775,"s":27168},{"h":1765,"s":27297},{"h":1765,"s":27220},{"h":1805,"s":27155},{"h":1805,"s":27039},{"h":1825,"s":27039},{"h":1835,"s":27026},{"h":1845,"s":27168},{"h":1815,"s":26962},{"h":1765,"s":27039},{"h":1655,"s":26911},{"h":1655,"s":26808},{"h":1695,"s":26847},{"h":1715,"s":26769},{"h":1725,"s":26615},{"h":1745,"s":26847},{"h":1735,"s":26679},{"h":1755,"s":26743},{"h":1775,"s":26782},{"h":1785,"s":26653},{"h":1805,"s":26808},{"h":1825,"s":26576},{"h":1755,"s":26615},{"h":1755,"s":26422},{"h":1705,"s":26551},{"h":1705,"s":26490},{"h":1695,"s":26512},{"h":1685,"s":26486},{"h":1665,"s":26461},{"h":1635,"s":26422},{"h":1585,"s":26422},{"h":1745,"s":26525},{"h":1775,"s":26551},{"h":1805,"s":26422},{"h":1805,"s":26480},{"h":1785,"s":26422},{"h":1775,"s":26290},{"h":1795,"s":26268},{"h":1705,"s":26268},{"h":1725,"s":26268},{"h":1815,"s":26268},{"h":1785,"s":26190},{"h":1715,"s":26190},{"h":1755,"s":26165},{"h":1765,"s":26165},{"h":1775,"s":26075},{"h":1775,"s":26010},{"h":1805,"s":26010},{"h":1795,"s":25882},{"h":1745,"s":25972},{"h":1755,"s":26036},{"h":1725,"s":25908},{"h":1695,"s":26010},{"h":1705,"s":26100},{"h":1675,"s":26075},{"h":1665,"s":26165},{"h":1655,"s":26165},{"h":1615,"s":26075},{"h":1605,"s":26190},{"h":1595,"s":26010},{"h":1645,"s":26036},{"h":1635,"s":25990},{"h":1675,"s":25869},{"h":1655,"s":25869},{"h":1645,"s":25843},{"h":1735,"s":25843},{"h":1735,"s":25780},{"h":1695,"s":25753},{"h":1715,"s":25650},{"h":1755,"s":25715},{"h":1765,"s":25779},{"h":1745,"s":25522},{"h":1755,"s":25367},{"h":1765,"s":25329},{"h":1745,"s":25329},{"h":1725,"s":25355},{"h":1695,"s":25419},{"h":1665,"s":25496},{"h":1645,"s":25650},{"h":1645,"s":25590},{"h":1605,"s":25650},{"h":1585,"s":25522},{"h":1605,"s":25496},{"h":1625,"s":25689},{"h":1635,"s":25522},{"h":1635,"s":25355},{"h":1565,"s":25367},{"h":1575,"s":25226},{"h":1595,"s":25175},{"h":1615,"s":25265},{"h":1625,"s":25200},{"h":1635,"s":25072},{"h":1605,"s":25111},{"h":1595,"s":24853},{"h":1575,"s":24904},{"h":1705,"s":25072},{"h":1715,"s":24982},{"h":1715,"s":25226},{"h":1735,"s":25175},{"h":1725,"s":25007},{"h":1685,"s":24879},{"h":1665,"s":24943},{"h":1645,"s":25007},{"h":1625,"s":24969},{"h":1615,"s":24943},{"h":1705,"s":25136},{"h":1855,"s":24917},{"h":1815,"s":25007},
{"h":1575,"s":24750},{"h":1595,"s":24557},{"h":1585,"s":24390},{"h":1615,"s":24622},{"h":1615,"s":24287},{"h":1635,"s":24622},{"h":1645,"s":24364},{"h":1655,"s":24557},{"h":1675,"s":24532},{"h":1665,"s":24429},{"h":1685,"s":24364},{"h":1695,"s":24622},{"h":1695,"s":24680},{"h":1715,"s":24750},{"h":1725,"s":24364},{"h":1725,"s":24172},{"h":1745,"s":24429},{"h":1745,"s":24261},{"h":1755,"s":24172},{"h":1765,"s":24532},{"h":1775,"s":24300},{"h":1785,"s":24557},{"h":1785,"s":24725},{"h":1795,"s":24660},{"h":1805,"s":24236},{"h":1565,"s":24493},{"h":1575,"s":24300},{"h":1555,"s":24339},{"h":1555,"s":24210},{"h":1565,"s":24043},{"h":1625,"s":24107},{"h":1645,"s":24210},{"h":1655,"s":24107},{"h":1665,"s":24236},{"h":1635,"s":23914},{"h":1625,"s":23786},{"h":1655,"s":23914},{"h":1695,"s":23850},{"h":1725,"s":23850},{"h":1715,"s":24069},{"h":1735,"s":24043},{"h":1685,"s":23567},{"h":1695,"s":23361},{"h":1725,"s":23464},{"h":1675,"s":23464},{"h":1645,"s":23721},{"h":1635,"s":23593},{"h":1615,"s":23593},{"h":1605,"s":23696},{"h":1605,"s":23528},{"h":1595,"s":23438},{"h":1585,"s":23438},{"h":1565,"s":23207},{"h":1575,"s":23181},{"h":1615,"s":23271},{"h":1615,"s":23181},{"h":1675,"s":23271},{"h":1665,"s":23207},{"h":1675,"s":23143},{"h":1595,"s":22988},{"h":1575,"s":22847},{"h":1565,"s":22924},{"h":1565,"s":22564},{"h":1615,"s":22628},{"h":1625,"s":22783},{"h":1645,"s":22950},{"h":1655,"s":23053},{"h":1645,"s":22718},{"h":1625,"s":22693},{"h":1635,"s":22603},{"h":1605,"s":22333},{"h":1635,"s":22371},{"h":1615,"s":22242},{"h":1705,"s":22217},{"h":1715,"s":22461},{"h":1585,"s":22140},{"h":1575,"s":22075},{"h":1605,"s":21947},{"h":1595,"s":22242},{"h":1565,"s":21792},{"h":1585,"s":21664},{"h":1575,"s":21445},{"h":1625,"s":21407},{"h":1585,"s":20699},{"h":1555,"s":21252},{"h":1555,"s":22024},{"h":1555,"s":20275},
{"h":2135,"s":34526},{"h":2145,"s":34294},{"h":2215,"s":34629},{"h":2205,"s":34140},{"h":2215,"s":34166},{"h":2205,"s":33986},{"h":2115,"s":34230},{"h":2165,"s":33986},{"h":2315,"s":34333},{"h":2345,"s":34423},{"h":2355,"s":34359},{"h":2355,"s":34230},{"h":2385,"s":34526},{"h":2035,"s":33651},{"h":2055,"s":33304},{"h":2135,"s":33497},{"h":2175,"s":33523},{"h":2175,"s":33368},{"h":2165,"s":33240},{"h":2265,"s":33407},{"h":2115,"s":32944},{"h":2145,"s":32944},{"h":2225,"s":32905},{"h":2225,"s":32597},{"h":2085,"s":32468},{"h":2075,"s":32365},{"h":2055,"s":32211},{"h":2015,"s":32172},{"h":2145,"s":32172},{"h":2185,"s":32301},{"h":2325,"s":32108},{"h":2105,"s":32057},{"h":2075,"s":31980},{"h":2085,"s":31915},{"h":2045,"s":31671},{"h":2055,"s":31594},{"h":2075,"s":31697},{"h":2075,"s":31529},{"h":2015,"s":31594},{"h":1995,"s":31594},{"h":2135,"s":31825},{"h":2145,"s":31864},{"h":2165,"s":31787},{"h":2155,"s":31632},{"h":2165,"s":31478},{"h":2135,"s":31401},{"h":2055,"s":31247},{"h":2055,"s":31182},{"h":2015,"s":31208},{"h":2015,"s":31053},{"h":2005,"s":30771},{"h":1845,"s":32301},{"h":1925,"s":31980},{"h":1975,"s":31504},{"h":1975,"s":31414},{"h":1925,"s":31439},{"h":1885,"s":31439},{"h":1895,"s":31362},{"h":1865,"s":31182},{"h":1915,"s":30989},{"h":1945,"s":31053},{"h":1965,"s":30861},{"h":1945,"s":30796},{"h":1955,"s":30668},{"h":1945,"s":30565},{"h":1965,"s":30514},{"h":1895,"s":30539},{"h":2105,"s":30565},{"h":2065,"s":30346},{"h":2035,"s":30192},{"h":2005,"s":30089},{"h":1985,"s":30089},{"h":1945,"s":30385},{"h":1945,"s":30282},{"h":1955,"s":30282},{"h":1965,"s":30282},{"h":1925,"s":30218},{"h":1905,"s":30179},{"h":1835,"s":30192},{"h":1945,"s":30025},{"h":1795,"s":29806},{"h":1835,"s":29832},{"h":1805,"s":29703},{"h":1875,"s":29767},{"h":1905,"s":29806},{"h":1895,"s":29678},{"h":2025,"s":29678},{"h":2065,"s":29793},{"h":2015,"s":29575},{"h":2045,"s":29549},{"h":1995,"s":29575},{"h":1935,"s":29549},{"h":1965,"s":29510},{"h":1915,"s":29639},{"h":1905,"s":29408},{"h":1885,"s":29665},{"h":1865,"s":29472},{"h":1805,"s":29408},{"h":2015,"s":29446},{"h":2015,"s":29356},{"h":1925,"s":29420},{"h":1875,"s":29343},{"h":1975,"s":29292},{"h":1995,"s":29228},{"h":1985,"s":29202},{"h":1965,"s":29112},{"h":1975,"s":29112},{"h":2075,"s":29240},{"h":2085,"s":29202},{"h":1865,"s":29125},{"h":1845,"s":28996},{"h":1905,"s":29086},{"h":1885,"s":29034},{"h":1725,"s":29099},{"h":1895,"s":28867},{"h":1835,"s":28957},{"h":1825,"s":28803},{"h":1935,"s":28842},{"h":1955,"s":28957},{"h":1985,"s":28867},{"h":1995,"s":28777},{"h":1875,"s":28803},{"h":1855,"s":28739},{"h":1865,"s":28674},{"h":1965,"s":28648},{"h":1915,"s":28739},{"h":1925,"s":28418},{"h":1955,"s":28520},{"h":1965,"s":28482},{"h":1935,"s":28418},{"h":1905,"s":28572},{"h":1825,"s":28584},{"h":1825,"s":28379},{"h":1815,"s":28546},{"h":2005,"s":28327},{"h":2035,"s":28469},{"h":1765,"s":28713},{"h":1705,"s":28816},{"h":1695,"s":28546},{"h":1725,"s":28353},{"h":1755,"s":28315},{"h":1745,"s":28199},{"h":1695,"s":28199},{"h":1725,"s":28160},{"h":1725,"s":27993},{"h":1615,"s":28199},{"h":1665,"s":27851},{"h":1795,"s":28225},{"h":1795,"s":28096},{"h":1815,"s":28160},{"h":1835,"s":28315},{"h":1855,"s":28225},{"h":1885,"s":28032},{"h":1905,"s":28096},{"h":1915,"s":28006},{"h":1925,"s":27813},{"h":1965,"s":28199},{"h":1995,"s":28032},{"h":2035,"s":28044},{"h":1865,"s":27967},{"h":1845,"s":27839},{"h":1805,"s":27967},{"h":1765,"s":27967},{"h":1785,"s":27993},{"h":1885,"s":27839}
],
"xt":[{"x":100,"a":0,"b":463},{"x":200,"a":0,"b":463},{"x":300,"a":0,"b":463},{"x":400,"a":0,"b":463},{"x":500,"a":0,"b":926},{"x":600,"a":0,"b":463},{"x":700,"a":0,"b":463},{"x":800,"a":0,"b":463},{"x":900,"a":0,"b":463},{"x":1000,"a":0,"b":926},{"x":1100,"a":0,"b":463},{"x":1200,"a":0,"b":463},{"x":1300,"a":0,"b":463},{"x":1400,"a":0,"b":463},{"x":1500,"a":0,"b":926},{"x":1600,"a":0,"b":463},{"x":1700,"a":0,"b":463},{"x":1800,"a":0,"b":463},{"x":1900,"a":0,"b":463},{"x":2000,"a":0,"b":926},{"x":2100,"a":0,"b":463},{"x":2200,"a":0,"b":463},{"x":2300,"a":0,"b":463},{"x":2400,"a":0,"b":463},
{"x":100,"a":35000,"b":34537},{"x":1200,"a":35000,"b":34537},{"x":1300,"a":35000,"b":34537},{"x":1400,"a":35000,"b":34537},{"x":1500,"a":35000,"b":34074},{"x":1600,"a":35000,"b":34537},{"x":1700,"a":35000,"b":34537},{"x":1800,"a":35000,"b":34537},{"x":1900,"a":35000,"b":34537},{"x":2000,"a":35000,"b":34074},{"x":2100,"a":35000,"b":34537},{"x":2200,"a":35000,"b":34537},{"x":2300,"a":35000,"b":34537},{"x":2400,"a":35000,"b":34537}],
"yt":[{"y":1000,"a":0,"b":38},{"y":2000,"a":0,"b":38},{"y":3000,"a":0,"b":38},{"y":4000,"a":0,"b":38},{"y":5000,"a":0,"b":79},{"y":6000,"a":0,"b":38},{"y":7000,"a":0,"b":38},{"y":8000,"a":0,"b":38},{"y":9000,"a":0,"b":38},{"y":10000,"a":0,"b":79},{"y":11000,"a":0,"b":38},{"y":12000,"a":0,"b":38},{"y":13000,"a":0,"b":38},{"y":14000,"a":0,"b":38},{"y":15000,"a":0,"b":79},{"y":16000,"a":0,"b":38},{"y":17000,"a":0,"b":38},{"y":18000,"a":0,"b":38},{"y":19000,"a":0,"b":38},{"y":20000,"a":0,"b":79},{"y":21000,"a":0,"b":38},{"y":22000,"a":0,"b":38},{"y":23000,"a":0,"b":38},{"y":24000,"a":0,"b":38},{"y":25000,"a":0,"b":79},{"y":26000,"a":0,"b":38},{"y":27000,"a":0,"b":38},{"y":28000,"a":0,"b":38},{"y":29000,"a":0,"b":38},{"y":30000,"a":0,"b":79},{"y":31000,"a":0,"b":38},{"y":32000,"a":0,"b":38},{"y":33000,"a":0,"b":38},{"y":34000,"a":0,"b":38},
{"y":1000,"a":2500,"b":2462},{"y":2000,"a":2500,"b":2462},{"y":3000,"a":2500,"b":2462},{"y":4000,"a":2500,"b":2462},{"y":5000,"a":2500,"b":2421},{"y":6000,"a":2500,"b":2462},{"y":7000,"a":2500,"b":2462},{"y":8000,"a":2500,"b":2462},{"y":9000,"a":2500,"b":2462},{"y":10000,"a":2500,"b":2421},{"y":11000,"a":2500,"b":2462},{"y":12000,"a":2500,"b":2462},{"y":13000,"a":2500,"b":2462},{"y":14000,"a":2500,"b":2462},{"y":15000,"a":2500,"b":2421},{"y":16000,"a":2500,"b":2462},{"y":17000,"a":2500,"b":2462},{"y":18000,"a":2500,"b":2462},{"y":19000,"a":2500,"b":2462},{"y":20000,"a":2500,"b":2421},{"y":21000,"a":2500,"b":2462},{"y":22000,"a":2500,"b":2462},{"y":23000,"a":2500,"b":2462},{"y":24000,"a":2500,"b":2462},{"y":25000,"a":2500,"b":2421},{"y":26000,"a":2500,"b":2462},{"y":27000,"a":2500,"b":2462},{"y":28000,"a":2500,"b":2462},{"y":29000,"a":2500,"b":2462},{"y":30000,"a":2500,"b":2421},{"y":31000,"a":2500,"b":2462},{"y":32000,"a":2500,"b":2462},{"y":33000,"a":2500,"b":2462},{"y":34000,"a":2500,"b":2462}],
"xg":[{"x":500},{"x":1000},{"x":1500},{"x":2000}],
"yg":[{"y":5000},{"y":10000},{"y":15000},{"y":20000},{"y":25000},{"y":30000}],
"labels":[{"h":214,"s":31104,"t":"Entries"},{"h":214,"s":28865,"t":"Mean x"},{"h":214,"s":26897,"t":"Mean y"},{"h":214,"s":24428,"t":"RMS x"},{"h":214,"s":22537,"t":"RMS y"}],
"values":[{"h":1114,"s":31104,"t":"220138"},{"h":1114,"s":28865,"t":"412.5"},{"h":1114,"s":26743,"t":"6143"},{"h":1114,"s":24505,"t":"280.2"},{"h":1114,"s":22305,"t":"4217"}],
"bar":[{"a":0,"b":12.5,"p":0,"q":1},{"a":12.5,"b":25,"p":0,"q":1},{"a":25,"b":37.5,"p":0,"q":1},{"a":37.5,"b":50,"p":0,"q":1},{"a":50,"b":62.5,"p":0,"q":1},{"a":62.5,"b":75,"p":0,"q":1},{"a":75,"b":87.5,"p":0,"q":1},{"a":87.5,"b":100,"p":0,"q":1},{"a":100,"b":112.5,"p":0,"q":1},{"a":112.5,"b":125,"p":0,"q":1},{"a":125,"b":137.5,"p":0,"q":1},{"a":137.5,"b":150,"p":0,"q":1},{"a":150,"b":162.5,"p":0,"q":1},{"a":162.5,"b":175,"p":0,"q":1},{"a":175,"b":187.5,"p":0,"q":1},{"a":187.5,"b":200,"p":0,"q":1},{"a":200,"b":212.5,"p":0,"q":1},{"a":212.5,"b":225,"p":0,"q":1},{"a":225,"b":237.5,"p":0,"q":1},{"a":237.5,"b":250,"p":0,"q":1}],
"bart":[{"v":0,"p":0.475,"q":1},{"v":50,"p":0.475,"q":1},{"v":100,"p":0.475,"q":1},{"v":150,"p":0.475,"q":1},{"v":200,"p":0.475,"q":1},{"v":250,"p":0.475,"q":1}]
},
"hconcat":[
{"width":1331,"height":907,"view":{"stroke":"#000","strokeWidth":3},
"layer":[
{"data":{"name":"cols"},"mark":{"type":"rect","width":5.4},"encoding":{
"x":{"field":"h","type":"quantitative","scale":{"domain":[0,2500],"nice":false},"axis":{"values":[0,500,1000,1500,2000,2500],"format":"d","labelFontSize":52,"labelPadding":10,"domain":false,"labelFlush":false,"labelOverlap":false,"title":"Height","titleFontSize":73,"titleAnchor":"end","titleAlign":"right","titleBaseline":"alphabetic","titleX":1329,"titleY":146}},
"y":{"field":"a","type":"quantitative","scale":{"domain":[0,35000],"nice":false},"axis":{"values":[0,5000,10000,15000,20000,25000,30000,35000],"format":"d","labelFontSize":52,"labelPadding":12,"domain":false,"labelOverlap":false,"title":"Sum","titleFontSize":72,"titleAngle":-90,"titleAnchor":"end","titleAlign":"right","titleBaseline":"alphabetic","titleX":-157,"titleY":-1}},
"y2":{"field":"b"},
"color":{"field":"n","type":"quantitative","legend":null,"scale":{"type":"quantize","domain":[0,250],"range":["#6600ff","#3300ff","#0010ff","#0044ff","#0088ff","#00bbff","#00ffff","#00ffcc","#00ff88","#00ff55","#00ff00","#22ff00","#66ff00","#99ff00","#ddff00","#ffee00","#ffaa00","#ff7700","#ff3300","#ff0000"]}}}},
{"data":{"name":"dash"},"mark":{"type":"rect","width":5.4,"height":1.7,"color":"#6600ff"},"encoding":{"x":{"field":"h","type":"quantitative"},"y":{"field":"s","type":"quantitative"}}},
{"data":{"name":"xg"},"mark":{"type":"rule","color":"#000","strokeWidth":2.6,"strokeDash":[3,6.4]},"encoding":{"x":{"field":"x","type":"quantitative"}}},
{"data":{"name":"yg"},"mark":{"type":"rule","color":"#000","strokeWidth":2.6,"strokeDash":[3,6.4]},"encoding":{"y":{"field":"y","type":"quantitative"}}},
{"data":{"name":"xt"},"mark":{"type":"rule","color":"#000","strokeWidth":2.2},"encoding":{"x":{"field":"x","type":"quantitative"},"y":{"field":"a","type":"quantitative"},"y2":{"field":"b"}}},
{"data":{"name":"yt"},"mark":{"type":"rule","color":"#000","strokeWidth":2.2},"encoding":{"y":{"field":"y","type":"quantitative"},"x":{"field":"a","type":"quantitative"},"x2":{"field":"b"}}},
{"data":{"values":[{"a":165,"b":1166,"c":21880,"d":35000}]},"mark":{"type":"rect","fill":"#fff","stroke":"#000","strokeWidth":2.5},"encoding":{"x":{"field":"a","type":"quantitative"},"x2":{"field":"b"},"y":{"field":"c","type":"quantitative"},"y2":{"field":"d"}}},
{"data":{"values":[{"a":165,"b":1166,"s":32800}]},"mark":{"type":"rule","color":"#000","strokeWidth":2.5},"encoding":{"x":{"field":"a","type":"quantitative"},"x2":{"field":"b"},"y":{"field":"s","type":"quantitative"}}},
{"data":{"values":[{"h":666,"s":33457,"t":"Sum vs Heigh (ch2)"}]},"mark":{"type":"text","font":"Liberation Sans","fontSize":49.5,"align":"center","baseline":"alphabetic","color":"#000"},"encoding":{"x":{"field":"h","type":"quantitative"},"y":{"field":"s","type":"quantitative"},"text":{"field":"t"}}},
{"data":{"name":"labels"},"mark":{"type":"text","font":"Liberation Sans","fontSize":49.5,"align":"left","baseline":"alphabetic","color":"#000"},"encoding":{"x":{"field":"h","type":"quantitative"},"y":{"field":"s","type":"quantitative"},"text":{"field":"t"}}},
{"data":{"name":"values"},"mark":{"type":"text","font":"Liberation Sans","fontSize":49.5,"align":"right","baseline":"alphabetic","color":"#000"},"encoding":{"x":{"field":"h","type":"quantitative"},"y":{"field":"s","type":"quantitative"},"text":{"field":"t"}}}
]},
{"width":80,"height":907,"view":{"stroke":null},
"layer":[
{"data":{"name":"bar"},"mark":{"type":"rect"},"encoding":{
"x":{"field":"p","type":"quantitative","scale":{"domain":[0,1],"nice":false},"axis":null},"x2":{"field":"q"},
"y":{"field":"a","type":"quantitative","scale":{"domain":[0,250],"nice":false},"axis":{"orient":"right","values":[0,50,100,150,200,250],"format":"d","labelFontSize":31,"labelPadding":8,"domain":true,"domainColor":"#000","domainWidth":2,"labelOverlap":false,"labelFlush":false,"title":null}},
"y2":{"field":"b"},
"color":{"field":"a","type":"quantitative","legend":null,"scale":{"type":"quantize","domain":[0,250],"range":["#6600ff","#3300ff","#0010ff","#0044ff","#0088ff","#00bbff","#00ffff","#00ffcc","#00ff88","#00ff55","#00ff00","#22ff00","#66ff00","#99ff00","#ddff00","#ffee00","#ffaa00","#ff7700","#ff3300","#ff0000"]}}}},
{"data":{"name":"bart"},"mark":{"type":"rule","color":"#000","strokeWidth":2},"encoding":{"y":{"field":"v","type":"quantitative"},"x":{"field":"p","type":"quantitative"},"x2":{"field":"q"}}}
]}
]}
